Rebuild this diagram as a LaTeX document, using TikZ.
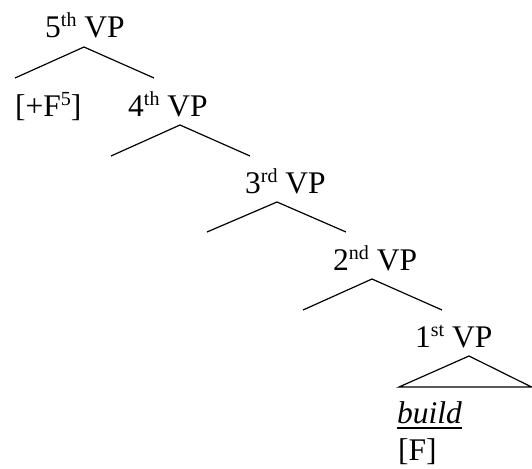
\documentclass[tikz,border=0pt]{standalone}
\usepackage{fontspec}
\setmainfont{Liberation Serif}
\newcommand\sps[1]{\raisebox{11pt}{\fontsize{20}{20}\selectfont #1}}
\newcommand\ulbuild[1]{\setbox0\hbox{#1}\rlap{\rule[-5.5pt]{\wd0}{1.8pt}}\box0}
\begin{document}
\begin{tikzpicture}[x=1pt,y=-1pt,
  lbl/.style={anchor=base west,inner sep=0pt,font=\fontsize{31.5}{36}\selectfont},
  branch/.style={line width=1.2pt}]
\useasboundingbox (0,0) rectangle (532,468);
% labels
\node[lbl] (v5) at (45,38) {5\sps{th} VP};
\node[lbl] (f5) at (15,117) {[+F\sps{5}]};
\node[lbl] (v4) at (128,117) {4\sps{th} VP};
\node[lbl] (v3) at (245,193) {3\sps{rd} VP};
\node[lbl] (v2) at (333,270) {2\sps{nd} VP};
\node[lbl] (v1) at (415,347) {1\sps{st} VP};
\node[lbl] (build) at (397,423) {\ulbuild{\textit{build}}};
\node[lbl] (F) at (398,460) {[F]};
% branch points
\coordinate (a5) at (84,47);  \coordinate (l5) at (15,78);  \coordinate (r5) at (154,78);
\coordinate (a4) at (180,125); \coordinate (l4) at (111,156); \coordinate (r4) at (250,156);
\coordinate (a3) at (277,202); \coordinate (l3) at (207,232); \coordinate (r3) at (346,232);
\coordinate (a2) at (372,279); \coordinate (l2) at (303,310); \coordinate (r2) at (442,310);
\coordinate (a1) at (469,356); \coordinate (l1) at (399,387); \coordinate (r1) at (531.5,387);
\draw[branch] (l5) -- (a5) -- (r5);
\draw[branch] (l4) -- (a4) -- (r4);
\draw[branch] (l3) -- (a3) -- (r3);
\draw[branch] (l2) -- (a2) -- (r2);
\draw[branch] (l1) -- (a1) -- (r1) -- cycle;
\end{tikzpicture}
\end{document}
